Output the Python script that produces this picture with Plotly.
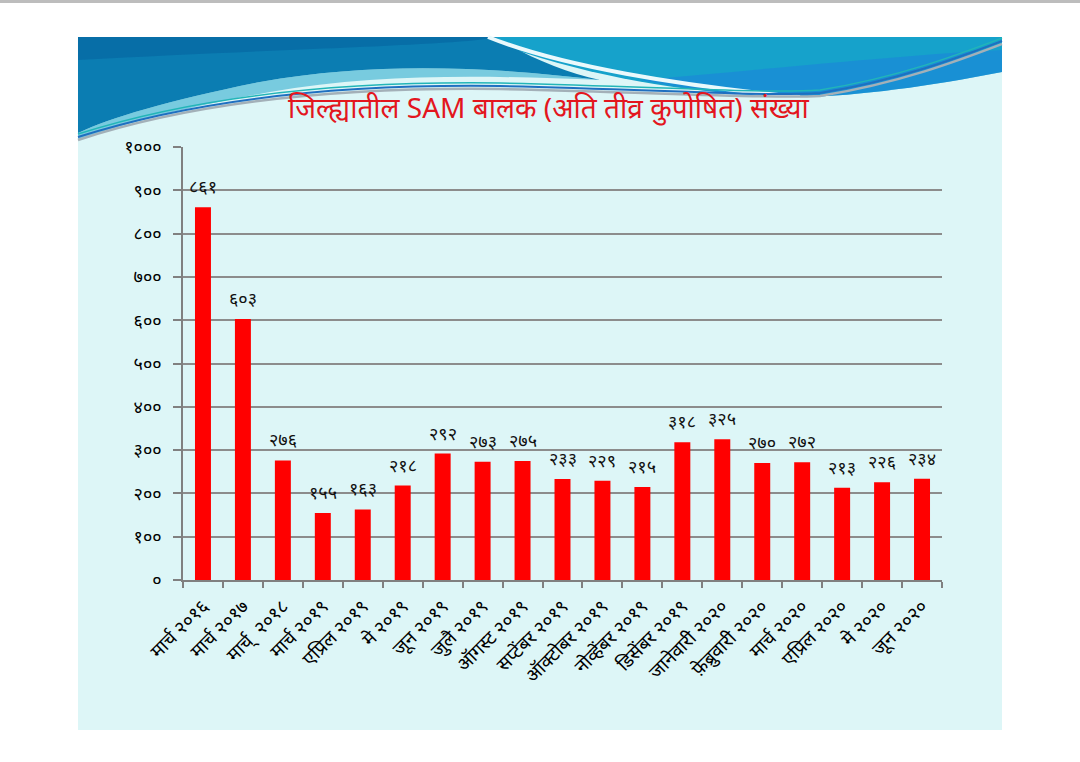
import plotly.graph_objects as go

# ---------------- data ----------------
categories = [
    "मार्च २०१६", "मार्च २०१७", "मार्च्  २०१८", "मार्च २०१९", "एप्रिल २०१९",
    "मे २०१९", "जून २०१९", "जुलै २०१९", "ऑगस्ट २०१९", "सप्टेंबर २०१९",
    "ऑक्टोबर २०१९", "नोव्हेंबर २०१९", "डिसेंबर २०१९", "जानेवारी २०२०",
    "फ़ेब्रुवारी २०२०", "मार्च २०२०", "एप्रिल २०२०", "मे २०२०", "जून २०२०",
]
values = [861, 603, 276, 155, 163, 218, 292, 273, 275, 233, 229, 215,
          318, 325, 270, 272, 213, 226, 234]
y_ticks = [0, 100, 200, 300, 400, 500, 600, 700, 800, 900, 1000]
title_text = "जिल्ह्यातील SAM बालक (अति तीव्र कुपोषित) संख्या"

DEV = str.maketrans("0123456789", "०१२३४५६७८९")
def dev(n):
    return str(n).translate(DEV)

# ---------------- layout geometry ----------------
W, H = 1080, 762
L, R, T, B = 183, 942, 147, 580
PW, PH = R - L, B - T

def px(x):
    return (x - L) / PW

def py(y):
    return (B - y) / PH

def path(cmds):
    out = []
    for c in cmds:
        if isinstance(c, str):
            out.append(c)
        else:
            out.append(f"{px(c[0]):.5f},{py(c[1]):.5f}")
    return " ".join(out)

FONT = "Noto Sans, Lato, sans-serif"

fig = go.Figure()
fig.add_trace(go.Bar(
    x=categories, y=values,
    marker=dict(color="#FF0000", line=dict(width=0)),
    width=0.4,
    hoverinfo="skip",
))

shapes = []
# slide background
shapes.append(dict(type="rect", xref="paper", yref="paper", layer="below",
                   x0=px(78), x1=px(1002), y0=py(730), y1=py(37),
                   fillcolor="#DDF6F7", line=dict(width=0)))
# top gray line of page
shapes.append(dict(type="rect", xref="paper", yref="paper", layer="below",
                   x0=px(0), x1=px(1080), y0=py(3), y1=py(0),
                   fillcolor="#BDBDBD", line=dict(width=0)))
# right teal/blue wave
shapes.append(dict(type="path", xref="paper", yref="paper", layer="below",
                   path=path(["M", (480, 37), "L", (1002, 37), "L", (1002, 72),
                              "C", (930, 86), (860, 96), (800, 97),
                              "C", (700, 95), (590, 80), (480, 37), "Z"]),
                   fillcolor="#16A2CB", line=dict(width=0)))
shapes.append(dict(type="path", xref="paper", yref="paper", layer="below",
                   path=path(["M", (640, 80), "C", (760, 70), (900, 55), (1002, 50),
                              "L", (1002, 72), "C", (930, 86), (860, 96), (800, 97),
                              "C", (740, 96), (690, 90), (640, 80), "Z"]),
                   fillcolor="rgba(30,130,220,0.55)", line=dict(width=0)))
# left dark blue wave
shapes.append(dict(type="path", xref="paper", yref="paper", layer="below",
                   path=path(["M", (78, 37), "L", (495, 37),
                              "C", (530, 58), (565, 72), (600, 80),
                              "C", (500, 68), (380, 60), (260, 82),
                              "C", (170, 100), (110, 118), (78, 133), "Z"]),
                   fillcolor="#0B7DB2", line=dict(width=0)))
shapes.append(dict(type="path", xref="paper", yref="paper", layer="below",
                   path=path(["M", (78, 37), "L", (495, 37),
                              "C", (470, 45), (300, 48), (78, 60), "Z"]),
                   fillcolor="rgba(5,100,160,0.6)", line=dict(width=0)))
# lighter band near lower edge of left wave
shapes.append(dict(type="path", xref="paper", yref="paper", layer="below",
                   path=path(["M", (78, 133), "C", (110, 118), (170, 100), (260, 82),
                              "C", (380, 60), (500, 68), (600, 80),
                              "C", (500, 76), (380, 72), (270, 92),
                              "C", (180, 108), (120, 125), (78, 140), "Z"]),
                   fillcolor="rgba(20,160,200,0.5)", line=dict(width=0)))
# white streak
shapes.append(dict(type="path", xref="paper", yref="paper", layer="below",
                   path=path(["M", (488, 37), "C", (560, 66), (680, 86), (800, 97)]),
                   line=dict(color="#EAF9FC", width=4)))
# ribbon lines
shapes.append(dict(type="path", xref="paper", yref="paper", layer="below",
                   path=path(["M", (78, 140), "C", (200, 100), (350, 87), (500, 89),
                              "C", (650, 92), (760, 99), (820, 96),
                              "C", (900, 83), (960, 60), (1002, 44)]),
                   line=dict(color="#A3B0B8", width=2.5)))
shapes.append(dict(type="path", xref="paper", yref="paper", layer="below",
                   path=path(["M", (78, 137), "C", (200, 98), (350, 84), (500, 86),
                              "C", (650, 89), (760, 97), (820, 93),
                              "C", (900, 80), (960, 57), (1002, 41)]),
                   line=dict(color="#1F6FC0", width=2)))
shapes.append(dict(type="path", xref="paper", yref="paper", layer="below",
                   path=path(["M", (78, 134), "C", (200, 95), (350, 81), (500, 83),
                              "C", (650, 86), (760, 94), (820, 90),
                              "C", (900, 77), (960, 54), (1002, 38)]),
                   line=dict(color="#22B5B8", width=1.5)))

annotations = []
annotations.append(dict(xref="paper", yref="paper", x=px(548), y=py(107),
                        text=title_text, showarrow=False,
                        xanchor="center", yanchor="middle",
                        font=dict(family=FONT, size=28, color="#E3161E")))
for c, v in zip(categories, values):
    annotations.append(dict(x=c, y=v, text=dev(v), showarrow=False,
                            yanchor="bottom", yshift=7,
                            font=dict(family=FONT, size=18, color="#111111")))

fig.update_layout(
    width=W, height=H,
    margin=dict(l=L, r=W - R, t=T, b=H - B, pad=0),
    paper_bgcolor="white", plot_bgcolor="rgba(0,0,0,0)",
    showlegend=False,
    shapes=shapes, annotations=annotations,
    bargap=0.6,
    font=dict(family=FONT, color="#111111"),
)
fig.update_xaxes(
    type="category", tickangle=-45, tickson="boundaries",
    ticks="outside", ticklen=6, tickcolor="#808080", tickwidth=1.5,
    showline=True, linecolor="#808080", linewidth=1.5,
    showgrid=False, ticklabelstandoff=6,
    tickfont=dict(family=FONT, size=19, color="#000000"),
)
fig.update_yaxes(
    range=[0, 1000], tickvals=y_ticks, ticktext=[dev(t) for t in y_ticks],
    ticks="outside", ticklen=8, tickcolor="#808080", tickwidth=1.5,
    showline=True, linecolor="#808080", linewidth=1.5,
    showgrid=True, gridcolor="#8C8C8C", gridwidth=1.5,
    zeroline=False, ticklabelstandoff=8,
    tickfont=dict(family=FONT, size=18, color="#000000"),
)

fig.write_html("out.html")
